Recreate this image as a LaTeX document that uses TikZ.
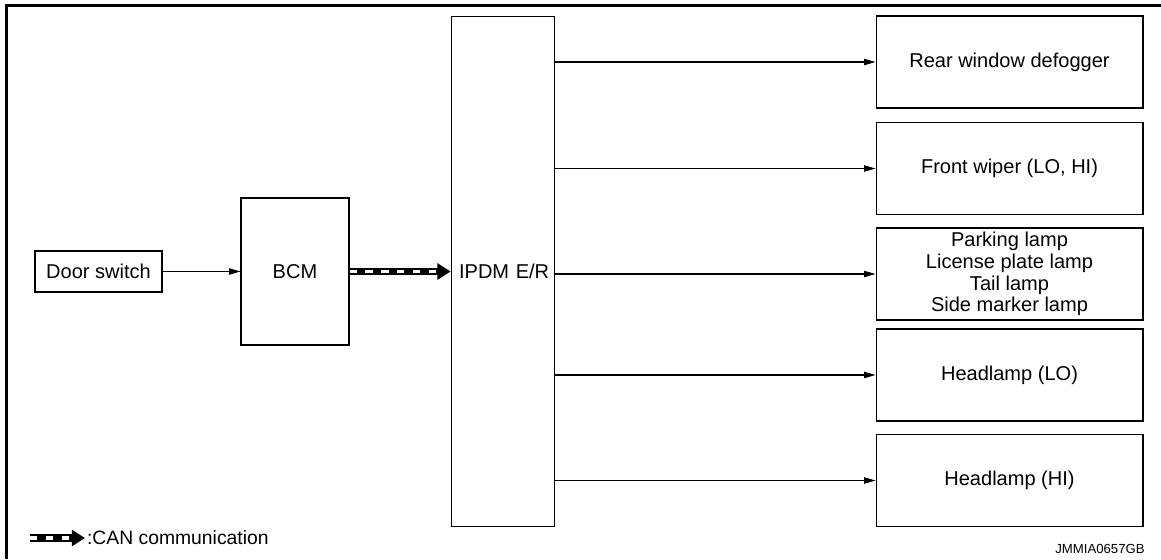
\documentclass[tikz,border=0pt]{standalone}
\usepackage{fontspec}
\setmainfont{Liberation Sans}
\usetikzlibrary{arrows.meta, positioning}

\begin{document}
\begin{tikzpicture}[x=0.02cm, y=-0.02cm,
  font=\fontsize{11.4}{12.4}\selectfont,
  unit/.style={draw, line width=0.6pt, inner sep=2pt, align=center},
  outbox/.style={unit, minimum width=5.34cm, minimum height=1.84cm},
  feed/.style={line width=0.6pt, -{Triangle[length=6.5pt, width=3.6pt]}},
  canbus/.style={line width=4pt, -{Triangle[length=7.5pt, width=9pt]},
    postaction={draw=white, line width=1.8pt, dash pattern=on 4.2pt off 4.8pt, -, shorten >=7.5pt}}]
  \useasboundingbox (0,0) rectangle (1161,559);
  % frame
  \draw[line width=1.8pt] (6.5,559) -- (6.5,5.5) -- (1161,5.5);

  % inputs and control units
  \node[unit, minimum width=2.54cm, minimum height=0.82cm] (door) at (98.5,271.5) {Door switch};
  \node[unit, minimum width=2.16cm, minimum height=2.94cm] (bcm) at (295,271.5) {BCM};
  \node[unit, text width=54pt, inner xsep=2.5pt, align=left, minimum height=10.22cm] (ipdm) at (503,271.5) {\hspace*{2pt}IPDM E/R};

  % outputs
  \node[outbox] (defog) at (1009.5,62) {Rear window defogger};
  \node[outbox] (wiper) at (1009.5,168.5) {Front wiper (LO, HI)};
  \node[outbox] (park) at (1009.5,274) {Parking lamp\\License plate lamp\\Tail lamp\\Side marker lamp};
  \node[outbox] (headlo) at (1009.5,375) {Headlamp (LO)};
  \node[outbox] (headhi) at (1009.5,480.5) {Headlamp (HI)};

  % connections
  \draw[feed] (door) -- (bcm);
  \draw[canbus] (bcm) -- (ipdm);
  \foreach \dest in {defog, wiper, park, headlo, headhi}
    \draw[feed] (ipdm.east |- \dest.west) -- (\dest.west);

  % legend
  \coordinate (cantail) at (30,538);
  \node[anchor=west, inner xsep=1pt, font=\fontsize{11}{12}\selectfont] (canlabel) at (85,538) {:CAN communication};
  \draw[canbus] (cantail) -- (canlabel.west);
  \node[font=\fontsize{7.5}{9}\selectfont] (tag) at (1100,549) {JMMIA0657GB};
\end{tikzpicture}
\end{document}
